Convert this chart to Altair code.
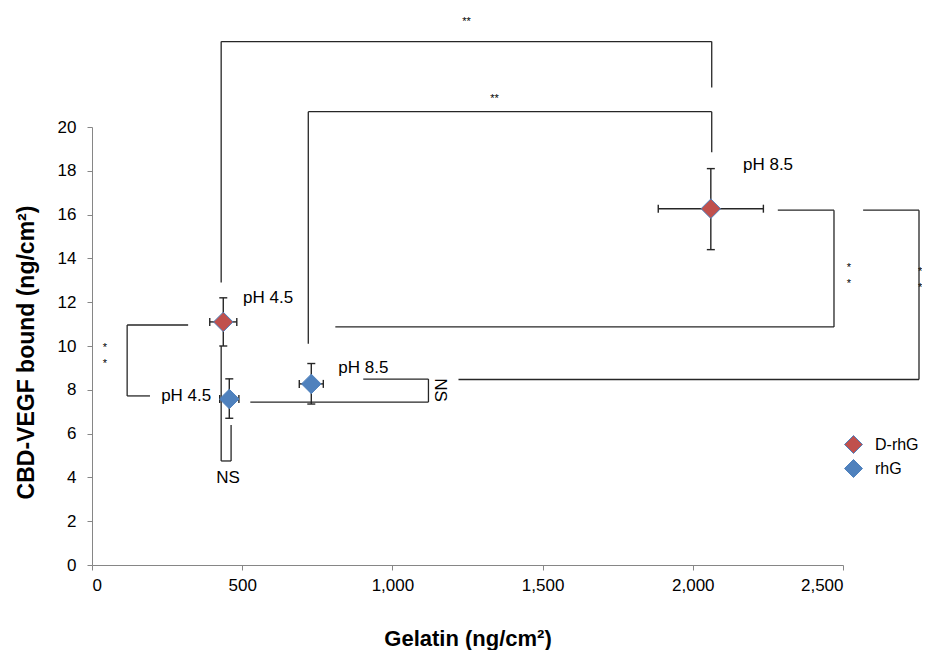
import altair as alt
import pandas as pd

# ---- data ----
series = ["D-rhG", "D-rhG", "rhG", "rhG"]
ph_label = ["pH 4.5", "pH 8.5", "pH 4.5", "pH 8.5"]
gelatin = [437, 2060, 457, 730]
gelatin_err = [45, 175, 32, 40]
vegf = [11.1, 16.27, 7.58, 8.27]
vegf_lo = [10.0, 14.4, 6.7, 7.35]
vegf_hi = [12.2, 18.1, 8.5, 9.2]

# label anchors for the pH labels (data units)
ph_label_x = [503, 2167, 397, 820]
ph_label_y = [12.19, 18.26, 7.72, 9.0]
ph_label_align = ["left", "left", "right", "left"]

# significance brackets: segments in data units
seg_x1 = [430, 430, 2063, 720, 720, 2063, 2283, 2470, 2470, 2567, 2753, 2753,
          320, 117, 117, 527, 1120, 1120, 430, 430, 463]
seg_y1 = [12.9, 23.9, 23.9, 10.1, 20.7, 20.7, 16.2, 16.2, 10.87, 16.2, 16.2, 8.47,
          10.96, 10.96, 7.72, 7.44, 7.44, 8.49, 10.0, 4.75, 4.75]
seg_x2 = [430, 2063, 2063, 720, 2063, 2063, 2470, 2470, 810, 2753, 2753, 1220,
          117, 117, 193, 1120, 1120, 903, 430, 463, 463]
seg_y2 = [23.9, 23.9, 21.8, 20.7, 20.7, 18.85, 16.2, 10.87, 10.87, 16.2, 8.47, 8.47,
          10.96, 7.72, 7.72, 7.44, 8.49, 8.49, 4.75, 4.75, 6.39]

# significance marks
star_text = ["**", "**", "*", "*", "*", "*", "*", "*"]
star_x = [1247, 1340, 2520, 2520, 43, 43, 2757, 2757]
star_y = [24.8, 21.3, 13.56, 12.83, 9.9, 9.2, 13.4, 12.65]
ns_text = ["NS", "NS"]
ns_x = [453, 1160]
ns_y = [3.97, 7.99]
ns_angle = [0, 90]

FONT = "Liberation Sans"
RED = "#C0504D"
BLUE = "#4F81BD"
LINE = "#262626"

pts = pd.DataFrame({
    "series": series, "ph": ph_label, "x": gelatin,
    "xlo": [g - e for g, e in zip(gelatin, gelatin_err)],
    "xhi": [g + e for g, e in zip(gelatin, gelatin_err)],
    "y": vegf, "ylo": vegf_lo, "yhi": vegf_hi,
})
labels = pd.DataFrame({"t": ph_label, "x": ph_label_x, "y": ph_label_y, "a": ph_label_align})
segs = pd.DataFrame({"x": seg_x1, "y": seg_y1, "x2": seg_x2, "y2": seg_y2})
stars = pd.DataFrame({"t": star_text, "x": star_x, "y": star_y})
ns = pd.DataFrame({"t": ns_text, "x": ns_x, "y": ns_y, "ang": ns_angle})

xs = alt.Scale(domain=[0, 2500], nice=False, zero=False)
ys = alt.Scale(domain=[0, 20], nice=False, zero=False)

XT = "Gelatin (ng/cm²)"
YT = "CBD-VEGF bound (ng/cm²)"
x_axis = alt.Axis(
    title=XT, values=[0, 500, 1000, 1500, 2000, 2500], format=",.0f",
    grid=False, domainColor="#868686", tickColor="#868686", tickSize=5,
    labelFont=FONT, labelFontSize=17, labelColor="#000000", labelPadding=7,
    titleFont=FONT, titleFontSize=22, titleFontWeight="bold", titleColor="#000000",
    titleY=80, titleBaseline="alphabetic")
y_axis = alt.Axis(
    title=YT, values=list(range(0, 21, 2)), format="d",
    grid=False, domainColor="#868686", tickColor="#868686", tickSize=5,
    labelFont=FONT, labelFontSize=17, labelColor="#000000", labelPadding=11,
    titleFont=FONT, titleFontSize=23, titleFontWeight="bold", titleColor="#000000",
    titleX=-59, titleY=225, titleBaseline="alphabetic")

def px(f):
    return alt.X(f + ":Q", scale=xs, axis=x_axis, title=XT)

def py(f):
    return alt.Y(f + ":Q", scale=ys, axis=y_axis, title=YT)

brackets = alt.Chart(segs).mark_rule(color=LINE, strokeWidth=1.3).encode(
    x=px("x"), y=py("y"), x2="x2:Q", y2="y2:Q")

base = alt.Chart(pts)
vbar = base.mark_rule(color=LINE, strokeWidth=1.4).encode(x=px("x"), y=py("ylo"), y2="yhi:Q")
hbar = base.mark_rule(color=LINE, strokeWidth=1.4).encode(x=px("xlo"), x2="xhi:Q", y=py("y"))
capkw = dict(size=64, filled=False, color=LINE, strokeWidth=1.4, opacity=1)
vcap_lo = base.mark_point(shape="M-1,0L1,0", **capkw).encode(x=px("x"), y=py("ylo"))
vcap_hi = base.mark_point(shape="M-1,0L1,0", **capkw).encode(x=px("x"), y=py("yhi"))
hcap_lo = base.mark_point(shape="M0,-1L0,1", **capkw).encode(x=px("xlo"), y=py("y"))
hcap_hi = base.mark_point(shape="M0,-1L0,1", **capkw).encode(x=px("xhi"), y=py("y"))

points = base.mark_point(shape="diamond", filled=True, size=380, stroke=BLUE, strokeWidth=1, opacity=1).encode(
    x=px("x"), y=py("y"),
    color=alt.Color("series:N", scale=alt.Scale(domain=["D-rhG", "rhG"], range=[RED, BLUE]),
                    legend=alt.Legend(title=None, orient="none", legendX=752, legendY=308,
                                      symbolType="diamond", symbolSize=324, symbolStrokeColor=BLUE,
                                      symbolStrokeWidth=1, symbolOpacity=1,
                                      labelFont=FONT, labelFontSize=16, labelColor="#000000",
                                      labelOffset=12, rowPadding=1, padding=0)))

lab_left = alt.Chart(labels).transform_filter("datum.a == 'left'").mark_text(
    font=FONT, fontSize=17, align="left", baseline="middle", color="#000000").encode(
    x=px("x"), y=py("y"), text="t:N")
lab_right = alt.Chart(labels).transform_filter("datum.a == 'right'").mark_text(
    font=FONT, fontSize=17, align="right", baseline="middle", color="#000000").encode(
    x=px("x"), y=py("y"), text="t:N")

star_marks = alt.Chart(stars).mark_text(font=FONT, fontSize=11, align="center", baseline="middle",
                                        color="#000000").encode(
    x=px("x"), y=py("y"), text="t:N")
ns0 = alt.Chart(ns).transform_filter("datum.ang == 0").mark_text(
    font=FONT, fontSize=17, align="center", baseline="middle", color="#000000").encode(
    x=px("x"), y=py("y"), text="t:N")
ns90 = alt.Chart(ns).transform_filter("datum.ang == 90").mark_text(
    font=FONT, fontSize=17, align="center", baseline="middle", angle=90, color="#000000").encode(
    x=px("x"), y=py("y"), text="t:N")

chart = alt.layer(
    brackets, vbar, hbar, vcap_lo, vcap_hi, hcap_lo, hcap_hi, points,
    lab_left, lab_right, star_marks, ns0, ns90
).properties(
    width=751, height=438,
    background="white",
    autosize=alt.AutoSizeParams(type="none"),
    padding={"left": 84, "top": 119, "right": 79, "bottom": 85},
).configure_view(stroke=None)

chart.save("out.html", embed_options={"renderer": "svg", "actions": False})
